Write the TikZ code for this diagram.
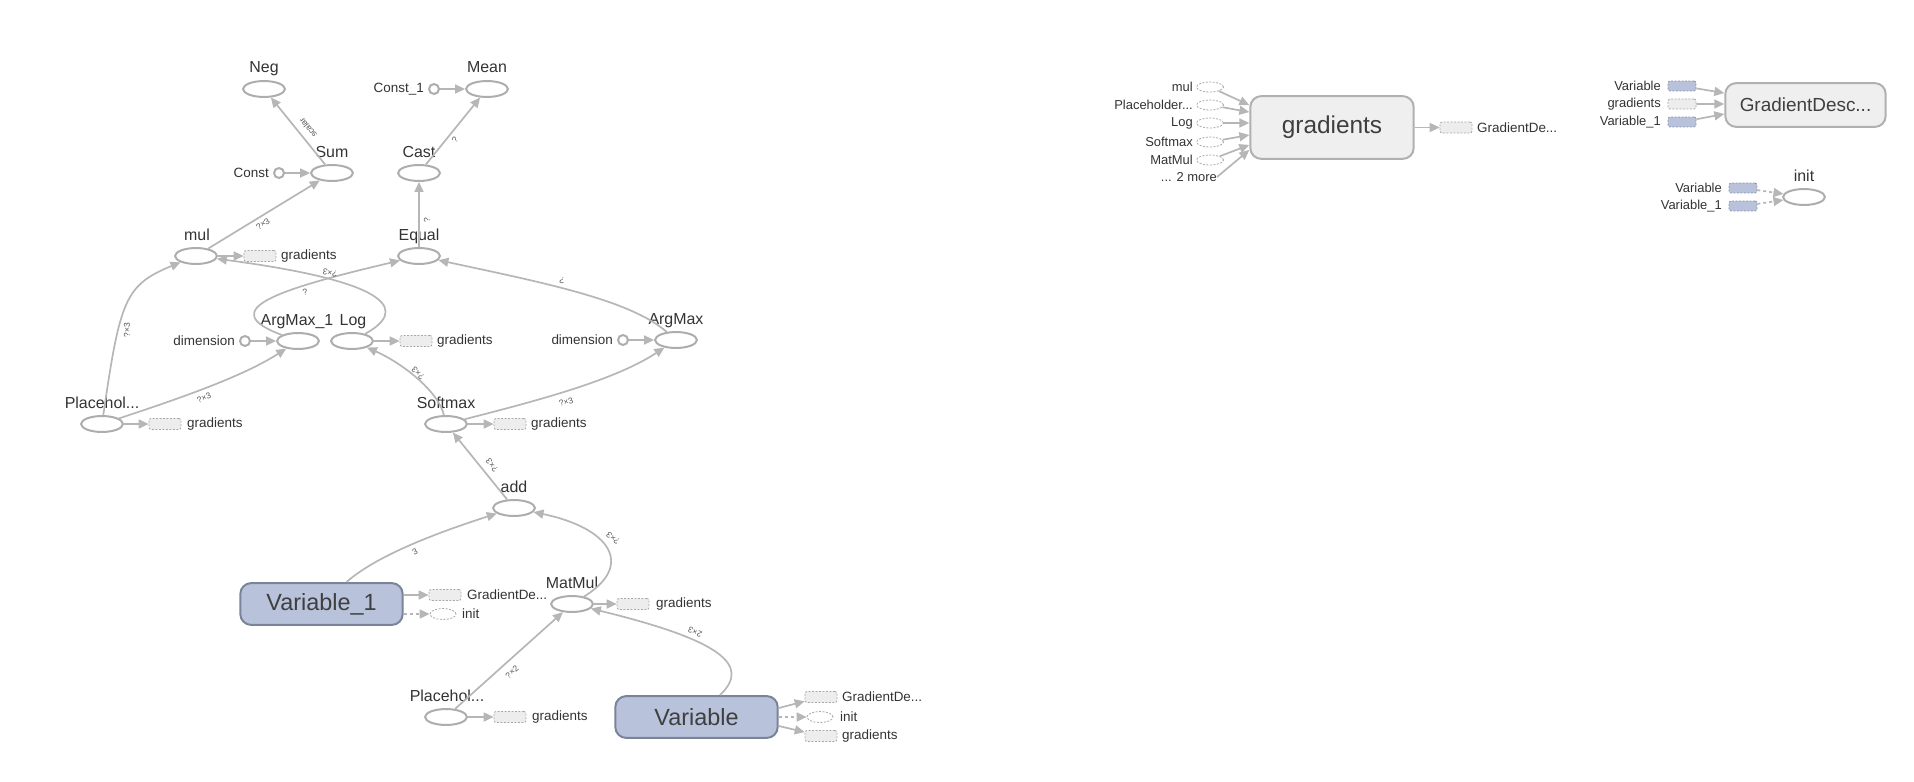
\documentclass[tikz,border=0pt]{standalone}
\usepackage{fontspec}
\setmainfont{Liberation Sans}
\usetikzlibrary{shapes.geometric,arrows.meta}

\definecolor{edgegray}{HTML}{B6B6B6}
\definecolor{opline}{HTML}{ADADAD}
\definecolor{txt}{HTML}{333333}
\definecolor{boxtxt}{HTML}{3F3F3F}
\definecolor{elabc}{HTML}{555555}
\definecolor{varfill}{HTML}{B8C2DA}
\definecolor{varline}{HTML}{7A8498}
\definecolor{grfill}{HTML}{EFEFEF}
\definecolor{grline}{HTML}{B0B0B0}
\definecolor{stubfill}{HTML}{EDEDED}
\definecolor{stubline}{HTML}{A8A8A8}
\definecolor{vstubline}{HTML}{8A94AA}

\newcommand\fsz[1]{\fontsize{#1}{#1}\selectfont}

\tikzset{
  op/.style={ellipse, draw=opline, line width=2pt, fill=white,
    minimum width=42pt, minimum height=16pt, inner sep=0pt},
  oplabel/.style={text=txt, font=\fsz{16}, anchor=base, inner sep=0pt},
  side/.style={text=txt, font=\fsz{13.5}, inner sep=0pt},
  rside/.style={text=txt, font=\fsz{13}, inner sep=0pt, anchor=east},
  elab/.style={text=elabc, font=\fsz{8.5}, inner sep=0pt},
  cnst/.style={circle, draw=opline, line width=2pt, fill=white,
    minimum size=10pt, inner sep=0pt},
  stub/.style={rectangle, rounded corners=2pt, draw=stubline,
    dash pattern=on 2pt off 1.5pt, line width=0.8pt, fill=stubfill,
    minimum width=32pt, minimum height=11pt, inner sep=0pt},
  vstub/.style={stub, fill=varfill, draw=vstubline},
  estub/.style={ellipse, draw=stubline, dash pattern=on 2pt off 1.5pt,
    line width=0.8pt, fill=white, minimum width=26pt, minimum height=11pt,
    inner sep=0pt},
  smallstub/.style={minimum width=28pt, minimum height=10pt},
  varbox/.style={rectangle, rounded corners=11pt, fill=varfill, draw=varline,
    line width=2pt, minimum width=163pt, minimum height=42pt, text=boxtxt,
    font=\fsz{23.5}},
  grbox/.style={rectangle, rounded corners=11pt, fill=grfill, draw=grline,
    line width=2pt, text=boxtxt},
  edge/.style={draw=edgegray, line width=1.7pt,
    -{Triangle[length=10pt,width=9pt]}},
  ctrl/.style={edge, dash pattern=on 3pt off 3pt}
}

\begin{document}
\begin{tikzpicture}[x=1bp,y=-1bp]
\useasboundingbox (0,0) rectangle (1914,782);

% ---------- main graph: operation nodes ----------
\node[op] (neg) at (264,89) {};
\node[oplabel] (neg-t) at (264,73) {Neg};
\node[op] (mean) at (487,89) {};
\node[oplabel] (mean-t) at (487,73) {Mean};
\node[cnst] (c1) at (434,89) {};
\node[side, anchor=east] (c1-t) at (424,89) {Const\_1};

\node[op] (sum) at (332,173) {};
\node[oplabel] (sum-t) at (332,157) {Sum};
\node[cnst] (c0) at (279,173) {};
\node[side, anchor=east] (c0-t) at (269,173) {Const};
\node[op] (cast) at (419,173) {};
\node[oplabel] (cast-t) at (419,157) {Cast};

\node[op] (mul) at (196,256) {};
\node[oplabel] (mul-t) at (197,240) {mul};
\node[stub] (mul-g) at (260,256) {};
\node[side, anchor=west] (mul-gt) at (281,256) {gradients};
\node[op] (equal) at (419,256) {};
\node[oplabel] (equal-t) at (419,240) {Equal};

\node[op] (am1) at (298,341) {};
\node[oplabel] (am1-t) at (297,325) {ArgMax\_1};
\node[cnst] (dim1) at (245,341) {};
\node[side, anchor=east] (dim1-t) at (235,341) {dimension};
\node[op] (log) at (352,341) {};
\node[oplabel] (log-t) at (353,325) {Log};
\node[stub] (log-g) at (416,341) {};
\node[side, anchor=west] (log-gt) at (437,341) {gradients};
\node[op] (am) at (676,340) {};
\node[oplabel] (am-t) at (676,324) {ArgMax};
\node[cnst] (dim2) at (623,340) {};
\node[side, anchor=east] (dim2-t) at (613,340) {dimension};

\node[op] (pl1) at (102,424) {};
\node[oplabel] (pl1-t) at (102,408) {Placehol...};
\node[stub] (pl1-g) at (165,424) {};
\node[side, anchor=west] (pl1-gt) at (187,424) {gradients};
\node[op] (sm) at (446,424) {};
\node[oplabel] (sm-t) at (446,408) {Softmax};
\node[stub] (sm-g) at (510,424) {};
\node[side, anchor=west] (sm-gt) at (531,424) {gradients};

\node[op] (add) at (514,508) {};
\node[oplabel] (add-t) at (514,492) {add};

\node[varbox] (v1) at (321.5,604) {Variable\_1};
\node[stub] (v1-gd) at (445,595) {};
\node[side, anchor=west] (v1-gdt) at (467,595) {GradientDe...};
\node[estub] (v1-in) at (443,614) {};
\node[side, anchor=west] (v1-int) at (462,614) {init};

\node[op] (mm) at (572,604) {};
\node[oplabel] (mm-t) at (572,588) {MatMul};
\node[stub] (mm-g) at (633,604) {};
\node[side, anchor=west] (mm-gt) at (656,604) {gradients};

\node[op] (pl2) at (446,717) {};
\node[oplabel] (pl2-t) at (447,701) {Placehol...};
\node[stub] (pl2-g) at (510,717) {};
\node[side, anchor=west] (pl2-gt) at (532,717) {gradients};

\node[varbox] (v0) at (696.5,717) {Variable};
\node[stub] (v0-gd) at (821,697) {};
\node[side, anchor=west] (v0-gdt) at (842,697) {GradientDe...};
\node[estub] (v0-in) at (820,717) {};
\node[side, anchor=west] (v0-int) at (840,717) {init};
\node[stub] (v0-g) at (821,736) {};
\node[side, anchor=west] (v0-gt) at (842,736) {gradients};

% ---------- main graph: data edges ----------
\draw[edge] (c1) -- (mean);
\draw[edge] (cast) -- (mean);
\draw[edge] (sum) -- (neg);
\draw[edge] (c0) -- (sum);
\draw[edge] (mul) -- (sum);
\draw[edge] (equal) -- (cast);
\draw[edge] (mul) -- (mul-g);
\draw[edge] (dim1) -- (am1);
\draw[edge] (log) -- (log-g);
\draw[edge] (dim2) -- (am);
\draw[edge] (pl1) -- (pl1-g);
\draw[edge] (sm) -- (sm-g);
\draw[edge] (mm) -- (mm-g);
\draw[edge] (pl2) -- (pl2-g);
\draw[edge] (add) -- (sm);
\draw[edge] (pl2) -- (mm);

\draw[edge] (pl1) .. controls (120,300) and (125,285) .. (mul);
\draw[edge] (pl1) .. controls (190,395) and (245,375) .. (am1);
\draw[edge] (am1) .. controls (215,310) and (275,290) .. (equal);
\draw[edge] (log) .. controls (405,312) and (400,283) .. (mul);
\draw[edge] (sm) .. controls (438,390) and (400,362) .. (log);
\draw[edge] (sm) .. controls (540,400) and (615,380) .. (am);
\draw[edge] (am) .. controls (630,300) and (545,283) .. (equal);
\draw[edge] (v1) .. controls (375,557) and (430,535) .. (add);
\draw[edge] (mm) .. controls (635,565) and (610,528) .. (add);
\draw[edge] (v0) .. controls (752,665) and (720,640) .. (mm);

\draw[edge] (v1.east |- v1-gd) -- (v1-gd);
\draw[ctrl] (v1.east |- v1-in) -- (v1-in);
\draw[edge] ([yshift=9pt]v0.east) -- (v0-gd);
\draw[ctrl] (v0.east) -- (v0-in);
\draw[edge] ([yshift=-9pt]v0.east) -- (v0-g);

% ---------- tensor shape labels ----------
\node[elab, rotate=129] (e-scalar) at (308,128) {scalar};
\node[elab, rotate=34] (e-mulsum) at (263,224) {?×3};
\node[elab, rotate=52] (e-castmean) at (455,140) {?};
\node[elab, rotate=90] (e-eqcast) at (427,220) {?};
\node[elab, rotate=169] (e-logmul) at (330,273) {?×3};
\node[elab, rotate=12] (e-am1eq) at (305,292) {?};
\node[elab, rotate=165] (e-ameq) at (562,281) {?};
\node[elab, rotate=90] (e-plmul) at (127,330) {?×3};
\node[elab, rotate=22] (e-plam1) at (204,398) {?×3};
\node[elab, rotate=135] (e-smlog) at (418,373) {?×3};
\node[elab, rotate=18] (e-smam) at (566,402) {?×3};
\node[elab, rotate=126] (e-addsm) at (492,465) {?×3};
\node[elab, rotate=30] (e-v1add) at (415,552) {3};
\node[elab, rotate=140] (e-mmadd) at (613,538) {?×3};
\node[elab, rotate=42] (e-plmm) at (512,672) {?×2};
\node[elab, rotate=155] (e-vmm) at (695,632) {2×3};

% ---------- gradients group ----------
\node[grbox, font=\fsz{24.5}, minimum width=164pt, minimum height=63pt]
  (grad) at (1332,127.5) {gradients};
\node[estub, minimum width=27pt, minimum height=10pt] (gi-mul) at (1210,87) {};
\node[rside] (gi-mult) at (1193,87) {mul};
\node[estub, minimum width=27pt, minimum height=10pt] (gi-pl) at (1210,105) {};
\node[rside] (gi-plt) at (1193,105) {Placeholder...};
\node[estub, minimum width=27pt, minimum height=10pt] (gi-log) at (1210,123) {};
\node[rside] (gi-logt) at (1193,123) {Log};
\node[estub, minimum width=27pt, minimum height=10pt] (gi-sm) at (1210,142) {};
\node[rside] (gi-smt) at (1193,142) {Softmax};
\node[estub, minimum width=27pt, minimum height=10pt] (gi-mm) at (1210,160) {};
\node[rside] (gi-mmt) at (1193,160) {MatMul};
\node[rside] (gi-more) at (1217,177) {... 2 more};

\draw[edge] (gi-mul) -- ([yshift=22.5pt]grad.west);
\draw[edge] (gi-pl) -- ([yshift=15.5pt]grad.west);
\draw[edge] (gi-log) -- ([yshift=4.5pt]grad.west);
\draw[edge] (gi-sm) -- ([yshift=-7.5pt]grad.west);
\draw[edge] (gi-mm) -- ([yshift=-17.5pt]grad.west);
\draw[edge] (gi-more.east) -- ([yshift=-22.5pt]grad.west);

\node[stub] (grad-out) at (1456,127.5) {};
\node[side, anchor=west] (grad-outt) at (1477,127.5) {GradientDe...};
\draw[edge] (grad) -- (grad-out);

% ---------- optimizer step ----------
\node[grbox, font=\fsz{19}, minimum width=161pt, minimum height=44pt]
  (gd) at (1805.5,105) {GradientDesc...};
\node[vstub, smallstub] (gd-v0) at (1682,86) {};
\node[rside] (gd-v0t) at (1661,86) {Variable};
\node[stub, smallstub] (gd-g) at (1682,104) {};
\node[rside] (gd-gt) at (1661,104) {gradients};
\node[vstub, smallstub] (gd-v1) at (1682,122) {};
\node[rside] (gd-v1t) at (1661,122) {Variable\_1};
\draw[edge] (gd-v0) -- ([yshift=12pt]gd.west);
\draw[edge] (gd-g) -- ([yshift=1pt]gd.west);
\draw[edge] (gd-v1) -- ([yshift=-9pt]gd.west);

% ---------- initializer ----------
\node[op] (init) at (1804,197) {};
\node[oplabel] (init-t) at (1804,181) {init};
\node[vstub, smallstub] (in-v0) at (1743,188) {};
\node[rside] (in-v0t) at (1722,188) {Variable};
\node[vstub, smallstub] (in-v1) at (1743,206) {};
\node[rside] (in-v1t) at (1722,206) {Variable\_1};
\draw[ctrl] (in-v0) -- (init);
\draw[ctrl] (in-v1) -- (init);

\end{tikzpicture}
\end{document}
